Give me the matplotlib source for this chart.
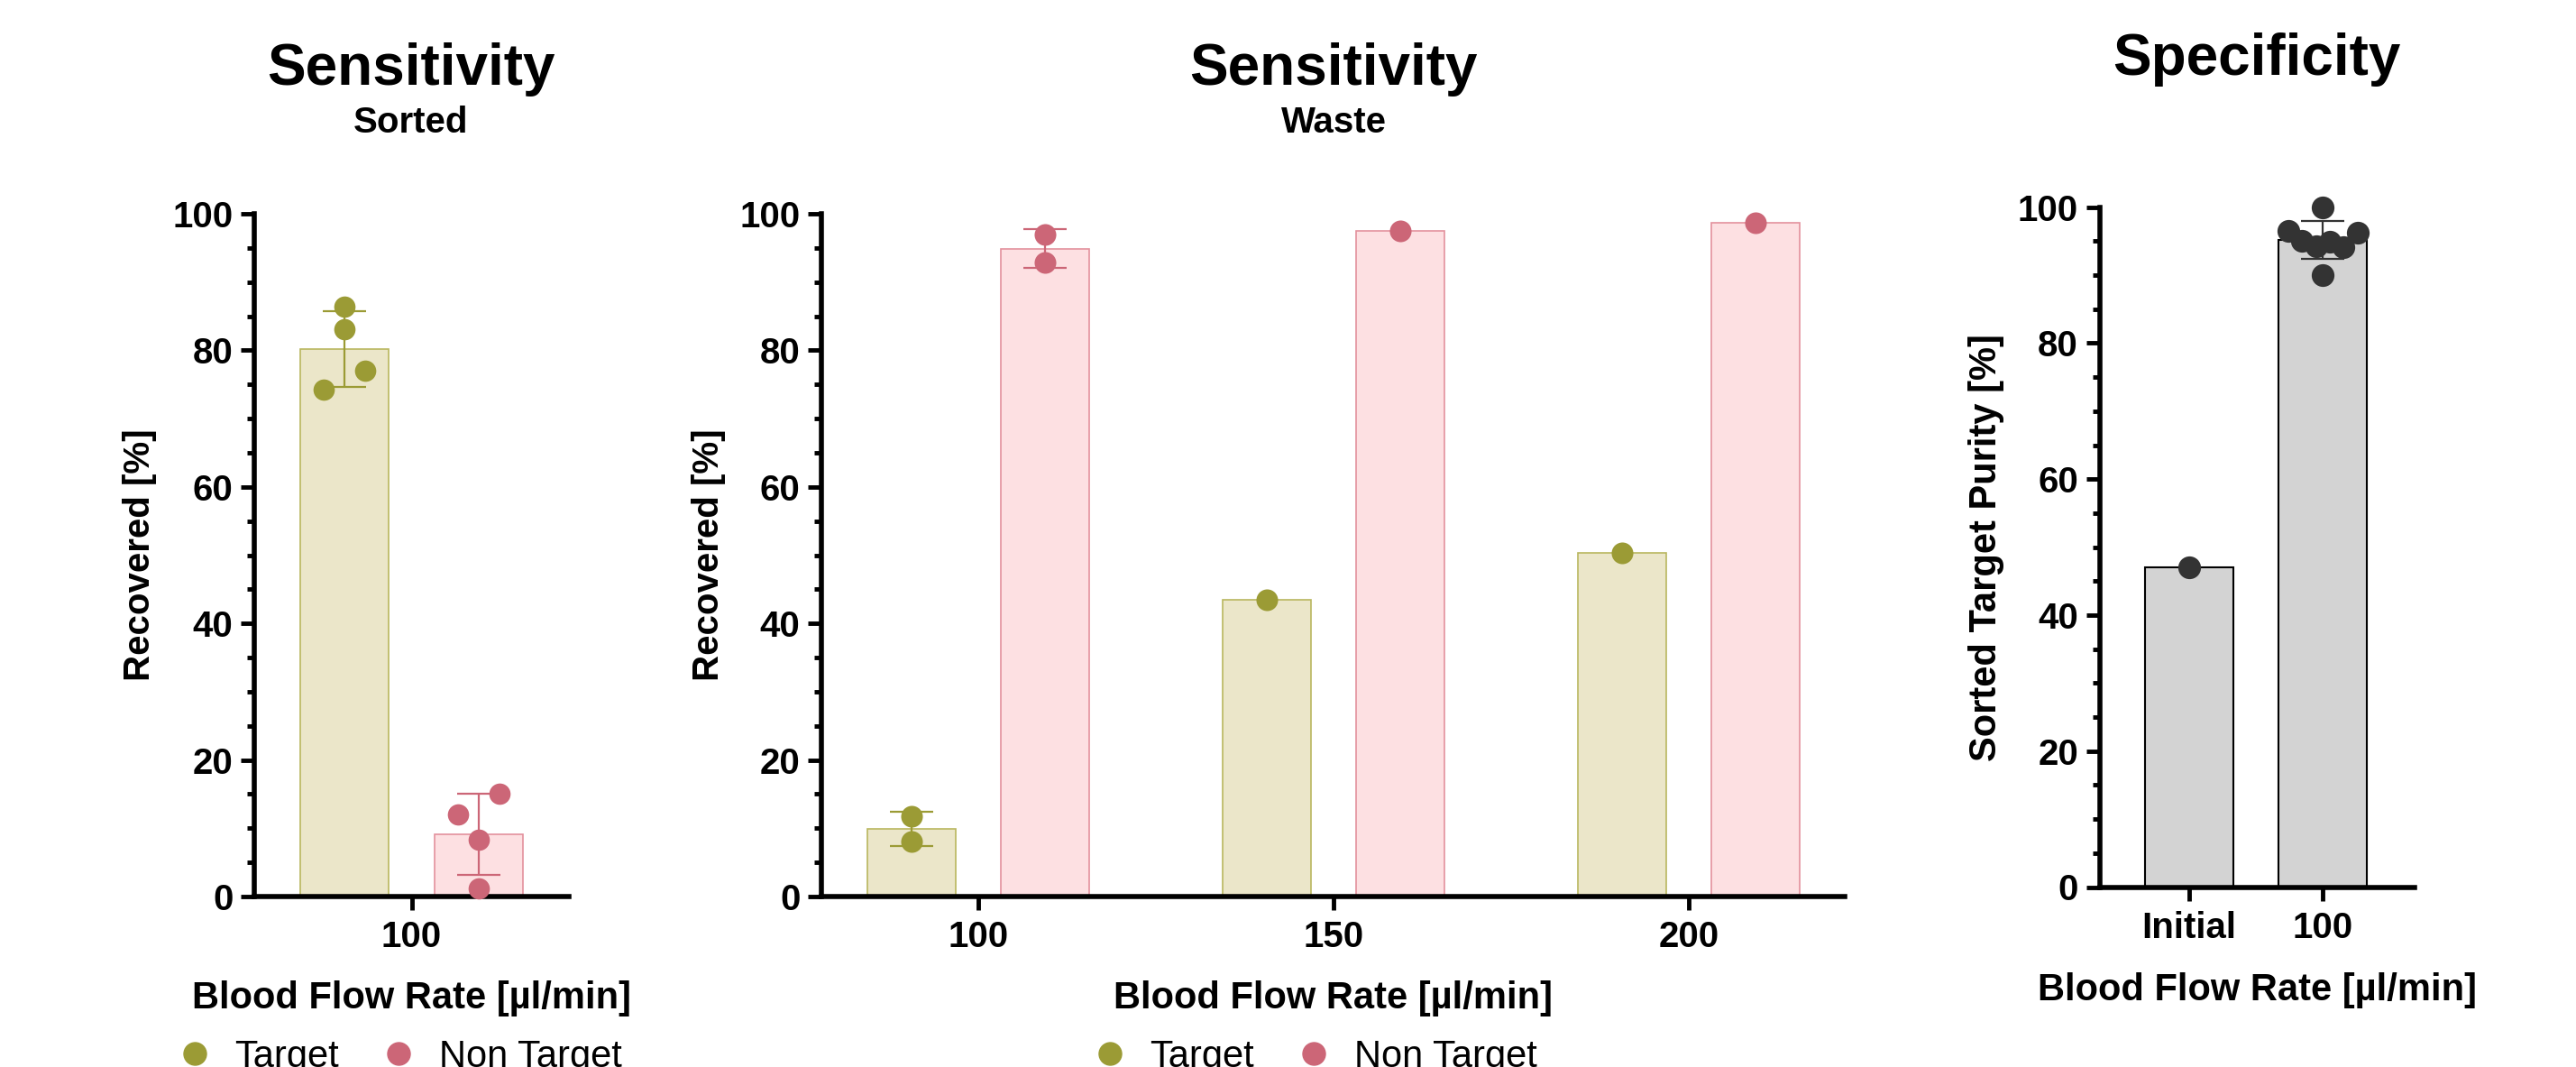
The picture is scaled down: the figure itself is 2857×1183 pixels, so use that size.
import matplotlib.pyplot as plt
import numpy as np
from matplotlib.ticker import MultipleLocator
from matplotlib.lines import Line2D

plt.rcParams['font.family'] = ['Liberation Sans', 'DejaVu Sans']
plt.rcParams['font.weight'] = 'bold'
plt.rcParams['axes.labelweight'] = 'bold'

# --- data ---
# Sensitivity, sorted fraction (100 ul/min)
sorted_rate = 100
sorted_target = [86.4, 83.1, 77.0, 74.2]
sorted_nontarget = [15.0, 12.0, 8.3, 1.2]

# Sensitivity, waste fraction
waste_rates = [100, 150, 200]
waste_target = [[11.7, 8.1], [43.4], [50.3]]
waste_nontarget = [[96.9, 92.9], [97.5], [98.7]]

# Specificity
spec_labels = ['Initial', '100']
spec_values = [[47.0], [100.0, 96.5, 96.3, 95.1, 94.3, 94.95, 94.1, 90.0]]

# horizontal scatter of the dots inside a bar (drawing only)
sorted_target_jit = [0, 0, 2.9, -3.0]
sorted_nontarget_jit = [2.9, -2.9, 0, 0]
spec_jit = [[0], [0, -0.256, 0.258, -0.155, -0.05, 0.05, 0.155, 0]]

olive, olive_fill, olive_edge = '#9b9b35', '#ebe6c9', '#b9b65f'
pink, pink_fill, pink_edge = '#cc6677', '#fde0e2', '#e3919d'
gray_fill, dark = '#d3d3d3', '#333333'

W, H = 2857, 1183
fig = plt.figure(figsize=(W / 100, H / 100), dpi=100)


def px_axes(x0, x1, ytop, ybot):
    return fig.add_axes([x0 / W, 1 - ybot / H, (x1 - x0) / W, (ybot - ytop) / H])


def group(ax, x, vals, jit, color, fill, edge, width, s, elw=1.2):
    vals = np.asarray(vals)
    m = vals.mean()
    ax.bar(x, m, width=width, color=fill, edgecolor=edge, linewidth=elw, zorder=1)
    if len(vals) > 1:
        ax.errorbar(x, m, yerr=vals.std(ddof=1), fmt='none', ecolor=color,
                    elinewidth=1.6, capsize=17, capthick=1.6, zorder=2)
    ax.scatter(x + np.asarray(jit), vals, s=s, color=color, zorder=3,
               clip_on=False, linewidths=0)


def style(ax):
    for sp in ['top', 'right']:
        ax.spines[sp].set_visible(False)
    for sp in ['left', 'bottom']:
        ax.spines[sp].set_linewidth(4)
    ax.set_ylim(0, 100)
    ax.yaxis.set_major_locator(MultipleLocator(20))
    ax.yaxis.set_minor_locator(MultipleLocator(5))
    ax.tick_params(which='major', length=11, width=3.5, labelsize=29, pad=6)
    ax.tick_params(axis='x', pad=8)
    ax.tick_params(which='minor', length=6, width=3.5)


def legend(ax, cx):
    h = [Line2D([], [], marker='o', ls='none', color=olive, markersize=18, label='Target'),
         Line2D([], [], marker='o', ls='none', color=pink, markersize=18, label='Non Target')]
    ax.legend(handles=h, ncol=2, loc='center', bbox_to_anchor=(cx / W, 1 - 1172 / H),
              bbox_transform=fig.transFigure, frameon=False,
              prop={'size': 30, 'weight': 'normal'}, handlelength=1.2,
              handletextpad=0.48, columnspacing=0.97, borderpad=0)


bw, off = 12.4, 9.4

# --- Sensitivity: Sorted ---
ax1 = px_axes(282, 631, 237, 994)
group(ax1, sorted_rate - off, sorted_target, sorted_target_jit, olive, olive_fill, olive_edge, bw, 290)
group(ax1, sorted_rate + off, sorted_nontarget, sorted_nontarget_jit, pink, pink_fill, pink_edge, bw, 290)
style(ax1)
ax1.set_xlim(77.9, 122.1)
ax1.set_xticks([sorted_rate])
ax1.set_ylabel('Recovered [%]', fontsize=29, va='center')
ax1.yaxis.set_label_coords(-0.3625, 0.5)
ax1.set_xlabel('Blood Flow Rate [µl/min]', fontsize=30, va='baseline')
ax1.xaxis.set_label_coords(0.5, -0.1638)
legend(ax1, 440)
fig.text(456 / W, 1 - 94 / H, 'Sensitivity', fontsize=46, ha='center', va='baseline')
fig.text(456 / W, 1 - 147 / H, 'Sorted', fontsize=29, ha='center', va='baseline')

# --- Sensitivity: Waste ---
ax2 = px_axes(911, 2046, 237, 994)
for r, t, n in zip(waste_rates, waste_target, waste_nontarget):
    group(ax2, r - off, t, [0] * len(t), olive, olive_fill, olive_edge, bw, 300)
    group(ax2, r + off, n, [0] * len(n), pink, pink_fill, pink_edge, bw, 300)
style(ax2)
ax2.set_xlim(77.9, 222.0)
ax2.set_xticks(waste_rates)
ax2.set_ylabel('Recovered [%]', fontsize=29, va='center')
ax2.yaxis.set_label_coords(-0.110, 0.5)
ax2.set_xlabel('Blood Flow Rate [µl/min]', fontsize=30, va='baseline')
ax2.xaxis.set_label_coords(0.5, -0.1638)
legend(ax2, 1455)
fig.text(1479 / W, 1 - 94 / H, 'Sensitivity', fontsize=46, ha='center', va='baseline')
fig.text(1479 / W, 1 - 147 / H, 'Waste', fontsize=29, ha='center', va='baseline')

# --- Specificity ---
ax3 = px_axes(2328.6, 2678, 229.7, 983.5)
for i, (v, j) in enumerate(zip(spec_values, spec_jit)):
    group(ax3, i, v, j, dark, gray_fill, 'black', 0.66, 330, elw=1.5)
style(ax3)
ax3.set_xlim(-0.667, 1.684)
ax3.set_xticks(range(len(spec_labels)))
ax3.set_xticklabels(spec_labels)
ax3.set_ylabel('Sorted Target Purity [%]', fontsize=30, va='center')
ax3.yaxis.set_label_coords(-0.3603, 0.5)
ax3.set_xlabel('Blood Flow Rate [µl/min]', fontsize=30, va='baseline')
ax3.xaxis.set_label_coords(0.5, -0.1665)
fig.text(2503 / W, 1 - 83 / H, 'Specificity', fontsize=46, ha='center', va='baseline')

fig.savefig('out.png', dpi=100)
